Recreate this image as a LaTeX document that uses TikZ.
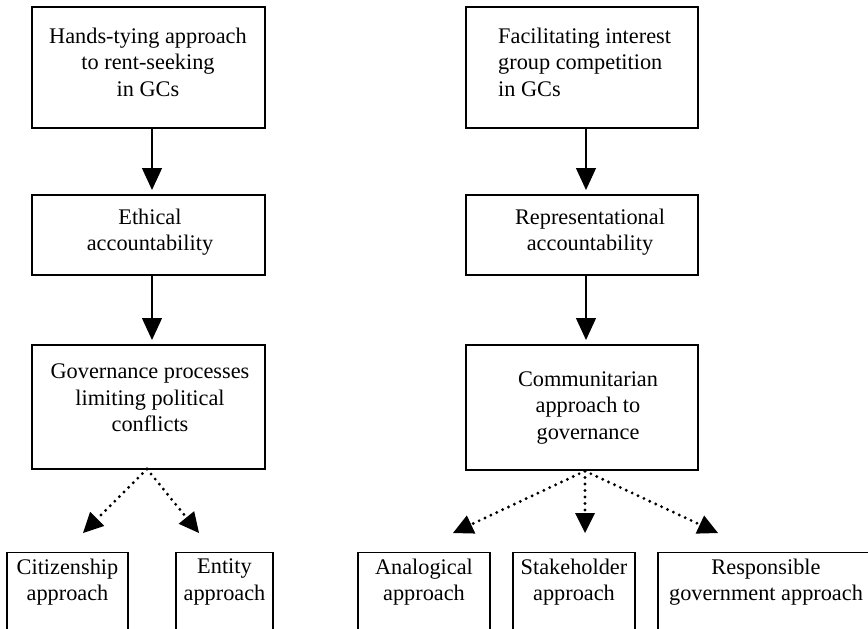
\documentclass[tikz,border=0pt]{standalone}
\usepackage{fontspec}
\setmainfont{Liberation Serif}
\usetikzlibrary{arrows.meta}
\begin{document}
\begin{tikzpicture}[x=1pt,y=-1pt,
  box/.style={draw, line width=1.3pt, inner sep=0pt},
  txt/.style={font=\fontsize{22.3}{26.5}\selectfont, align=center, inner sep=0pt},
  solidarrow/.style={line width=1.3pt, -{Triangle[width=20pt,length=22pt]}},
  dotarrow/.style={line width=3.2pt, line cap=round, dash pattern=on 0pt off 6.5pt,
     -{Triangle[width=20pt,length=20pt,line width=0pt]}}]
\useasboundingbox (0,0) rectangle (868,629);
\clip (0,0) rectangle (868,629);
% left column boxes
\node[box, minimum width=233, minimum height=121] (b1) at (148.5,67.5) {};
\node[txt] (t1) at (148,62) {Hands-tying approach\\to rent-seeking\\in GCs};
\node[box, minimum width=233, minimum height=80] (b2) at (148.5,235) {};
\node[txt] (t2) at (150,232) {Ethical\\accountability};
\node[box, minimum width=233, minimum height=124] (b3) at (148.5,407) {};
\node[txt] (t3) at (150,398) {Governance processes\\limiting political\\conflicts};
% right column boxes
\node[box, minimum width=232, minimum height=121] (r1) at (582,67.5) {};
\node[txt, align=left, anchor=west] (s1) at (498,62) {Facilitating interest\\group competition\\in GCs};
\node[box, minimum width=232, minimum height=80] (r2) at (582,235) {};
\node[txt] (s2) at (590,232) {Representational\\accountability};
\node[box, minimum width=232, minimum height=125] (r3) at (582,407.5) {};
\node[txt] (s3) at (588,408) {Communitarian\\approach to\\governance};
% bottom boxes (cut off at the bottom edge)
\node[box, minimum width=121, minimum height=100, anchor=north] (c1) at (67.5,552) {};
\node[txt] (u1) at (67.5,582) {Citizenship\\approach};
\node[box, minimum width=97, minimum height=100, anchor=north] (c2) at (224.5,552) {};
\node[txt] (u2) at (224.5,582) {Entity\\approach};
\node[box, minimum width=132, minimum height=100, anchor=north] (c3) at (424,552) {};
\node[txt] (u3) at (424,582) {Analogical\\approach};
\node[box, minimum width=122, minimum height=100, anchor=north] (c4) at (574,552) {};
\node[txt] (u4) at (574,582) {Stakeholder\\approach};
\node[box, minimum width=214, minimum height=100, anchor=north] (c5) at (765,552) {};
\node[txt] (u5) at (766,582) {Responsible\\government approach};
% arrow tips
\coordinate (a1) at (152,190);
\coordinate (a2) at (152,340);
\coordinate (a3) at (586,190);
\coordinate (a4) at (586,340);
\coordinate (d1) at (83,533);
\coordinate (d2) at (199,533);
\coordinate (d3) at (453,533);
\coordinate (d4) at (585,533);
\coordinate (d5) at (718,533);
\coordinate (p1) at (147,469);
\coordinate (p2) at (585,471);
% solid arrows
\draw[solidarrow] (b1.south -| a1) -- (a1);
\draw[solidarrow] (b2.south -| a2) -- (a2);
\draw[solidarrow] (r1.south -| a3) -- (a3);
\draw[solidarrow] (r2.south -| a4) -- (a4);
% dotted arrows
\draw[dotarrow] (p1) -- (d1);
\draw[dotarrow] (p1) -- (d2);
\draw[dotarrow] (p2) -- (d3);
\draw[dotarrow] (p2) -- (d4);
\draw[dotarrow] (p2) -- (d5);
\end{tikzpicture}
\end{document}
